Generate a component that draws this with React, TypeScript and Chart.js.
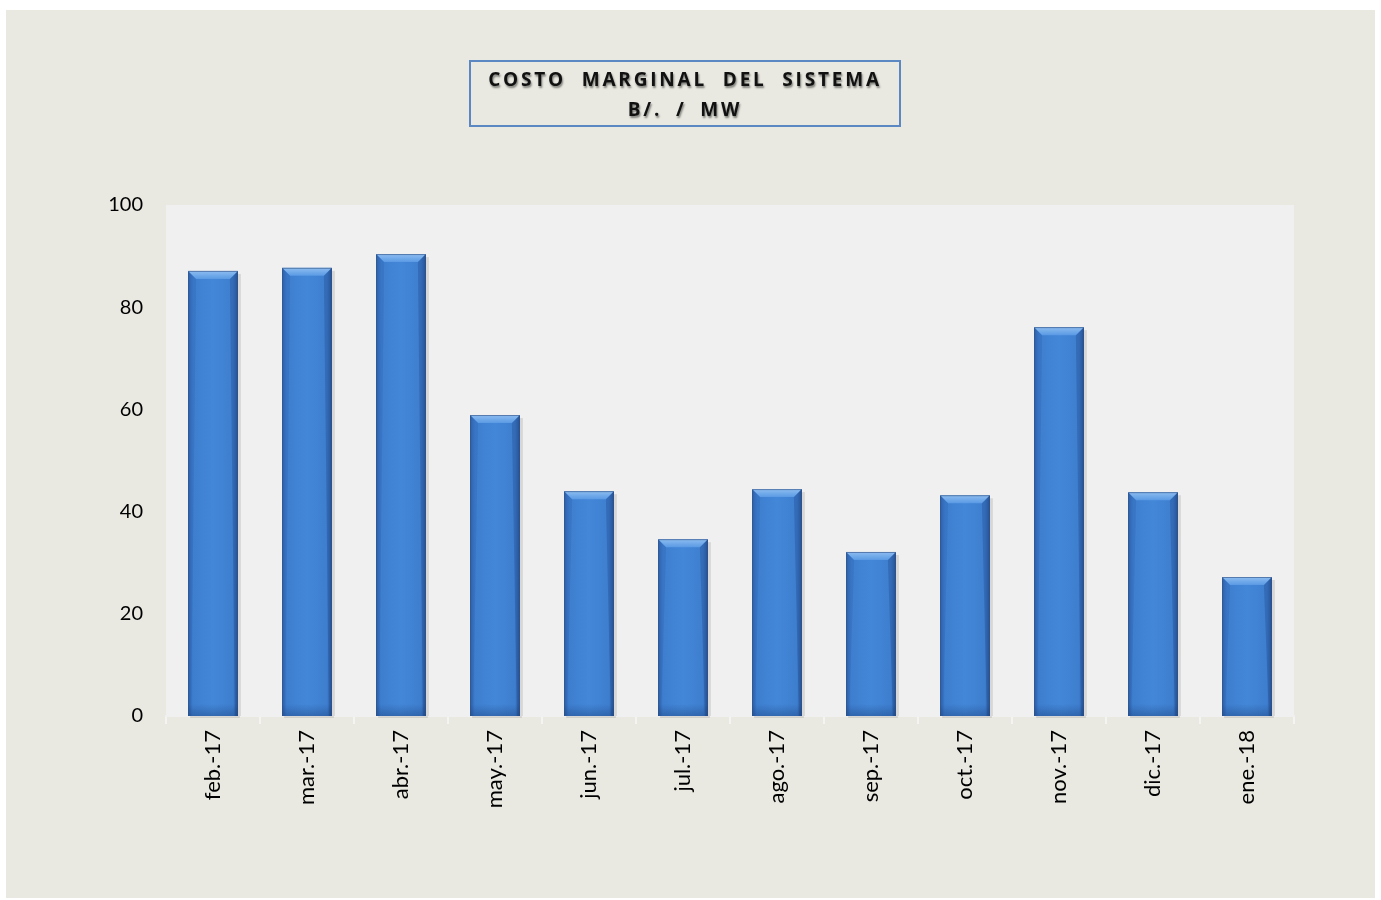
import React, { useEffect, useRef } from "react";
import { Chart, registerables } from "chart.js";

Chart.register(...registerables);

const categories = ["feb.-17", "mar.-17", "abr.-17", "may.-17", "jun.-17", "jul.-17", "ago.-17", "sep.-17", "oct.-17", "nov.-17", "dic.-17", "ene.-18"];
const costValues = [87.1, 87.7, 90.4, 58.9, 44.0, 34.6, 44.4, 32.1, 43.2, 76.1, 43.8, 27.2];
const yTicks = [0, 20, 40, 60, 80, 100];

const W = 1369;
const H = 888;

const plotBg = {
  id: "plotBg",
  beforeDraw(chart: any) {
    const { ctx, chartArea } = chart;
    ctx.save();
    ctx.fillStyle = "#F0F0F0";
    ctx.fillRect(chartArea.left, chartArea.top, chartArea.right - chartArea.left, chartArea.bottom - chartArea.top + 1);
    ctx.restore();
  },
};

const bevel = {
  id: "bevel",
  afterDatasetsDraw(chart: any) {
    const { ctx } = chart;
    const meta = chart.getDatasetMeta(0);
    ctx.save();
    meta.data.forEach((bar: any) => {
      const { x, y, width, base } = bar.getProps(["x", "y", "width", "base"], true);
      const l = x - width / 2;
      const r = x + width / 2;
      const h = base - y;
      ctx.fillStyle = "rgba(0,0,0,0.10)";
      ctx.fillRect(r, y + 3, 3, h - 3);
      ctx.fillRect(l + 2, base, width, 2);
      const g = ctx.createLinearGradient(l, 0, r, 0);
      g.addColorStop(0, "#3369B2");
      g.addColorStop(0.1, "#3E7ECF");
      g.addColorStop(0.5, "#4387D8");
      g.addColorStop(0.9, "#3E7ECF");
      g.addColorStop(1, "#2D5FA2");
      ctx.fillStyle = g;
      ctx.fillRect(l, y, width, h);
      const gb = ctx.createLinearGradient(0, base - 12, 0, base);
      gb.addColorStop(0, "rgba(30,70,130,0)");
      gb.addColorStop(1, "rgba(30,70,130,0.45)");
      ctx.fillStyle = gb;
      ctx.fillRect(l, base - 12, width, 12);
      const b = 8;
      ctx.beginPath();
      ctx.moveTo(l, y);
      ctx.lineTo(r, y);
      ctx.lineTo(r - b, y + b);
      ctx.lineTo(l + b, y + b);
      ctx.closePath();
      const gt = ctx.createLinearGradient(0, y, 0, y + b);
      gt.addColorStop(0, "#8DBDF0");
      gt.addColorStop(1, "#5A9AE4");
      ctx.fillStyle = gt;
      ctx.fill();
      ctx.beginPath();
      ctx.moveTo(l, y);
      ctx.lineTo(l + b, y + b);
      ctx.lineTo(l + 3, base);
      ctx.lineTo(l, base);
      ctx.closePath();
      ctx.fillStyle = "rgba(30,70,140,0.15)";
      ctx.fill();
      ctx.beginPath();
      ctx.moveTo(r, y);
      ctx.lineTo(r - b, y + b);
      ctx.lineTo(r - 3, base);
      ctx.lineTo(r, base);
      ctx.closePath();
      ctx.fillStyle = "rgba(20,50,110,0.25)";
      ctx.fill();
      ctx.strokeStyle = "rgba(40,70,120,0.55)";
      ctx.lineWidth = 1;
      ctx.beginPath();
      ctx.moveTo(l + 0.5, base);
      ctx.lineTo(l + 0.5, y + 0.5);
      ctx.lineTo(r - 0.5, y + 0.5);
      ctx.lineTo(r - 0.5, base);
      ctx.stroke();
    });
    ctx.restore();
  },
};

export default function App() {
  const ref = useRef<HTMLCanvasElement>(null);
  useEffect(() => {
    if (!ref.current) return;
    const chart = new Chart(ref.current, {
      type: "bar",
      data: {
        labels: categories,
        datasets: [
          {
            label: "Costo marginal",
            data: costValues,
            backgroundColor: "rgba(0,0,0,0)",
            borderWidth: 0,
            barPercentage: 0.53,
            categoryPercentage: 1,
          },
        ],
      },
      options: {
        animation: false,
        responsive: false,
        maintainAspectRatio: false,
        layout: { padding: { top: 195, right: 81, bottom: 0, left: 0 } },
        plugins: { legend: { display: false }, tooltip: { enabled: false }, title: { display: false } },
        scales: {
          x: {
            offset: true,
            grid: { display: true, drawOnChartArea: false, offset: true, tickLength: 8, color: "#F4F4F2", lineWidth: 2 },
            border: { display: true, color: "#F0F0F0", width: 2 },
            ticks: {
              color: "#000",
              font: { family: "Lato", size: 22 },
              maxRotation: 90,
              minRotation: 90,
              padding: 6,
            },
            afterFit(scale: any) {
              scale.height = H - 706;
            },
          },
          y: {
            min: 0,
            max: 100,
            afterBuildTicks(scale: any) {
              scale.ticks = yTicks.map((v) => ({ value: v }));
            },
            grid: { display: false },
            border: { display: false },
            ticks: { color: "#000", font: { family: "Lato", size: 20 }, padding: 15 },
            afterFit(scale: any) {
              scale.width = 160;
            },
          },
        },
      },
      plugins: [plotBg, bevel],
    });
    return () => chart.destroy();
  }, []);

  return (
    <div style={{ position: "absolute", left: 6, top: 10, width: W, height: H, background: "#E9E9E1" }}>
      <canvas ref={ref} width={W} height={H} style={{ position: "absolute", left: 0, top: 0, width: W, height: H }} />
      <div
        style={{
          position: "absolute",
          left: 463,
          top: 50,
          width: 428,
          height: 63,
          border: "2px solid #5B87C2",
          boxSizing: "content-box",
          display: "flex",
          flexDirection: "column",
          alignItems: "center",
          justifyContent: "center",
          fontFamily: "'Open Sans', sans-serif",
          fontWeight: 700,
          fontSize: 19,
          lineHeight: "30px",
          letterSpacing: 2.8,
          color: "#111",
          textShadow: "1px 2px 2px rgba(0,0,0,0.45)",
        }}
      >
        <div style={{ wordSpacing: 8 }}>COSTO MARGINAL DEL SISTEMA</div>
        <div style={{ wordSpacing: 6 }}>B/. / MW</div>
      </div>
    </div>
  );
}
